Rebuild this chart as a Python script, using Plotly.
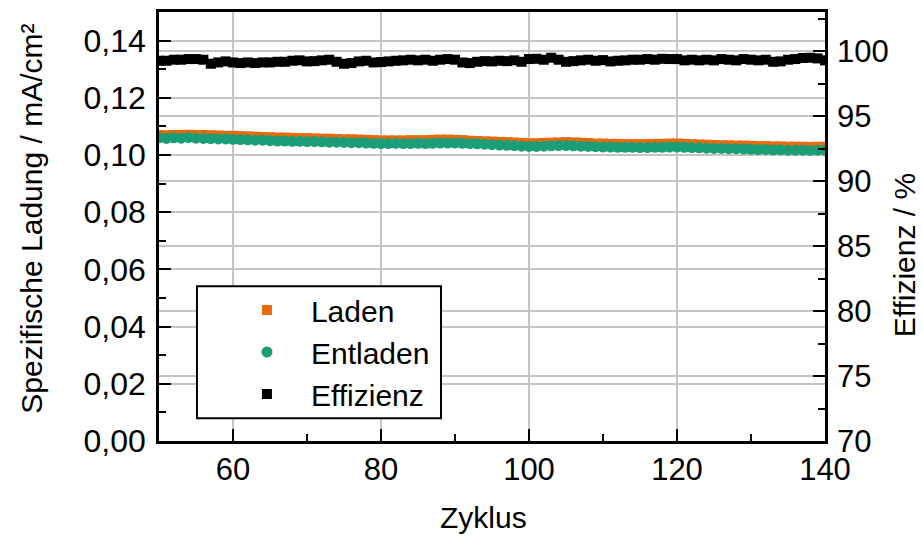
import plotly.graph_objects as go

# ---------------- data ----------------
zyklus = list(range(50, 141))

entladen = [
    0.1060, 0.1058, 0.1060, 0.1059, 0.1061, 0.1059, 0.1058, 0.1057, 0.1056, 0.1056,
    0.1055, 0.1054, 0.1053, 0.1052, 0.1052, 0.1050, 0.1049, 0.1049, 0.1048, 0.1048,
    0.1047, 0.1047, 0.1046, 0.1045, 0.1045, 0.1044, 0.1043, 0.1043, 0.1042, 0.1041,
    0.1040, 0.1040, 0.1041, 0.1040, 0.1040, 0.1041, 0.1040, 0.1041, 0.1042, 0.1042,
    0.1042, 0.1041, 0.1040, 0.1039, 0.1038, 0.1036, 0.1035, 0.1034, 0.1033, 0.1031,
    0.1030, 0.1030, 0.1031, 0.1032, 0.1033, 0.1033, 0.1032, 0.1031, 0.1030, 0.1029,
    0.1028, 0.1028, 0.1027, 0.1027, 0.1027, 0.1026, 0.1026, 0.1027, 0.1027, 0.1028,
    0.1028, 0.1027, 0.1026, 0.1025, 0.1024, 0.1023, 0.1023, 0.1022, 0.1022, 0.1021,
    0.1020, 0.1019, 0.1019, 0.1018, 0.1018, 0.1017, 0.1017, 0.1017, 0.1016, 0.1017,
    0.1017,
]

laden = [
    0.1070, 0.1069, 0.1070, 0.1070, 0.1071, 0.1070, 0.1070, 0.1069, 0.1068, 0.1067,
    0.1067, 0.1066, 0.1065, 0.1064, 0.1063, 0.1062, 0.1061, 0.1061, 0.1060, 0.1059,
    0.1059, 0.1058, 0.1057, 0.1057, 0.1056, 0.1055, 0.1055, 0.1054, 0.1053, 0.1052,
    0.1051, 0.1051, 0.1051, 0.1051, 0.1052, 0.1052, 0.1052, 0.1053, 0.1054, 0.1054,
    0.1053, 0.1052, 0.1050, 0.1049, 0.1048, 0.1047, 0.1046, 0.1045, 0.1044, 0.1042,
    0.1041, 0.1041, 0.1042, 0.1043, 0.1044, 0.1045, 0.1044, 0.1043, 0.1042, 0.1040,
    0.1040, 0.1039, 0.1039, 0.1038, 0.1038, 0.1038, 0.1038, 0.1039, 0.1039, 0.1040,
    0.1040, 0.1039, 0.1038, 0.1037, 0.1036, 0.1035, 0.1034, 0.1034, 0.1033, 0.1033,
    0.1032, 0.1031, 0.1031, 0.1030, 0.1030, 0.1029, 0.1029, 0.1029, 0.1028, 0.1029,
    0.1029,
]

effizienz = [
    99.25, 99.25, 99.33, 99.33, 99.38, 99.38, 99.33, 99.02, 99.12, 99.20,
    99.12, 99.07, 99.12, 99.07, 99.12, 99.12, 99.17, 99.17, 99.25, 99.28,
    99.20, 99.22, 99.28, 99.33, 99.17, 99.02, 99.07, 99.20, 99.25, 99.12,
    99.15, 99.20, 99.25, 99.28, 99.33, 99.28, 99.33, 99.25, 99.33, 99.38,
    99.33, 99.12, 99.07, 99.17, 99.22, 99.20, 99.25, 99.22, 99.28, 99.17,
    99.38, 99.40, 99.33, 99.48, 99.33, 99.17, 99.22, 99.28, 99.33, 99.25,
    99.30, 99.20, 99.25, 99.28, 99.33, 99.33, 99.38, 99.33, 99.40, 99.38,
    99.38, 99.28, 99.33, 99.28, 99.33, 99.28, 99.38, 99.33, 99.28, 99.38,
    99.33, 99.28, 99.33, 99.17, 99.20, 99.33, 99.38, 99.46, 99.48, 99.43,
    99.28,
]

x_ticks = [60, 80, 100, 120, 140]

# ---------------- styles ----------------
FONT = "Liberation Sans, Arial, sans-serif"
ORANGE = "#EA6A0E"
GREEN = "#1B9E77"
GRID = "#c4c4c4"

fig = go.Figure()
fig.add_trace(go.Scatter(
    x=zyklus, y=laden, name="Laden", mode="markers",
    marker=dict(symbol="square", size=10, color=ORANGE, line=dict(width=0)),
))
fig.add_trace(go.Scatter(
    x=zyklus, y=entladen, name="Entladen", mode="markers",
    marker=dict(symbol="circle", size=11, color=GREEN, line=dict(width=0)),
))
fig.add_trace(go.Scatter(
    x=zyklus, y=effizienz, name="Effizienz", mode="markers", yaxis="y2",
    marker=dict(symbol="square", size=10, color="black", line=dict(width=0)),
))

axis_common = dict(
    showline=True, linecolor="black", linewidth=2.5,
    ticks="inside", ticklen=12, tickwidth=2, tickcolor="black",
    showgrid=True, gridcolor=GRID, gridwidth=2, zeroline=False,
)

fig.update_layout(
    width=923, height=537,
    margin=dict(l=159, r=98, t=9, b=96),
    paper_bgcolor="white", plot_bgcolor="white",
    separators=",.",
    font=dict(family=FONT, size=30, color="black"),
    showlegend=True,
    xaxis=dict(
        range=[50, 140], tickvals=x_ticks, mirror=True, ticklabelstandoff=-1,
        tickfont=dict(family=FONT, size=31, color="black"),
        minor=dict(dtick=10, tick0=50, ticks="inside", ticklen=7, tickwidth=2,
                   tickcolor="black", showgrid=False),
        **axis_common,
    ),
    yaxis=dict(
        range=[0, 0.15], dtick=0.02, tick0=0, tickformat=".2f", ticklabelstandoff=4,
        tickfont=dict(family=FONT, size=32, color="black"),
        minor=dict(dtick=0.01, ticks="inside", ticklen=7, tickwidth=2,
                   tickcolor="black", showgrid=False),
        **axis_common,
    ),
    yaxis2=dict(
        range=[70, 103], dtick=5, tick0=70, overlaying="y", side="right",
        ticklabelstandoff=3,
        tickfont=dict(family=FONT, size=31, color="black"),
        minor=dict(dtick=2.5, ticks="inside", ticklen=7, tickwidth=2,
                   tickcolor="black", showgrid=False),
        **axis_common,
    ),
    legend=dict(
        x=0.096, y=0.366, xanchor="left", yanchor="top",
        bgcolor="rgba(0,0,0,0)", borderwidth=0, itemwidth=78,
        font=dict(family=FONT, size=30, color="black"),
    ),
    shapes=[dict(
        type="rect", xref="paper", yref="paper",
        x0=0.057, x1=0.4234, y0=0.0532, y1=0.361,
        line=dict(color="black", width=2), fillcolor="white", layer="above",
    )],
    annotations=[
        dict(text="Zyklus", xref="paper", yref="paper", x=0.4865, y=-0.178,
             xanchor="center", yanchor="middle", showarrow=False,
             font=dict(family=FONT, size=30, color="black")),
        dict(text="Spezifische Ladung / mA/cm²", xref="paper", yref="paper",
             x=-0.192, y=0.5185, xanchor="center", yanchor="middle",
             textangle=-90, showarrow=False,
             font=dict(family=FONT, size=30, color="black")),
        dict(text="Effizienz / %", xref="paper", yref="paper",
             x=1.1186, y=0.435, xanchor="center", yanchor="middle",
             textangle=-90, showarrow=False,
             font=dict(family=FONT, size=30, color="black")),
    ],
)

fig.write_html("out.html")
